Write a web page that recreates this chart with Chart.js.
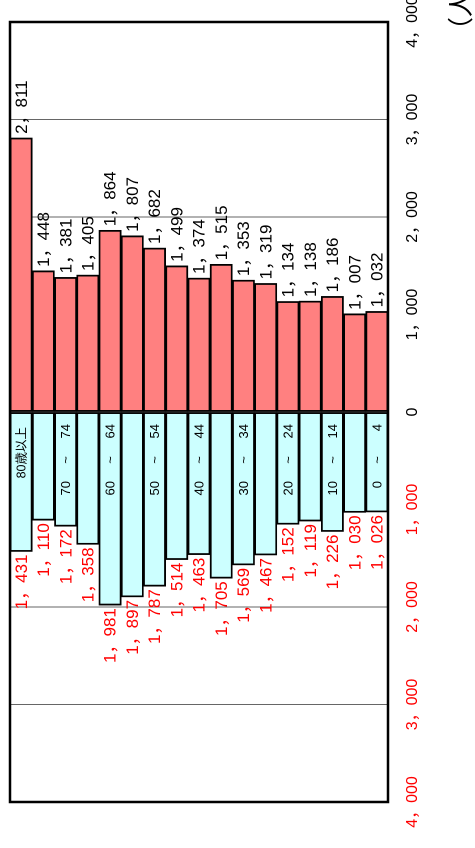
<!DOCTYPE html>
<html lang="ja">
<head>
<meta charset="utf-8">
<title>人口ピラミッド</title>
<script src="https://cdn.jsdelivr.net/npm/chart.js@4.4.1/dist/chart.umd.min.js"></script>
<style>
  html, body { margin: 0; padding: 0; background: #fff; overflow: hidden; }
  body { width: 475px; height: 848px; position: relative; }
  /* chart is drawn upright, then turned on its side like the scan */
  #wrap {
    position: absolute; left: 0; top: 0;
    width: 848px; height: 475px;
    transform-origin: 0 0;
    transform: translate(0, 848px) rotate(-90deg);
  }
</style>
</head>
<body>
<div id="wrap"><canvas id="pyramid" width="848" height="475"></canvas></div>
<script>
const ageLabels = ["80歳以上", "75～79", "70～74", "65～69", "60～64", "55～59", "50～54", "45～49",
  "40～44", "35～39", "30～34", "25～29", "20～24", "15～19", "10～14", "5～9", "0～4"];
const femaleValues = [2811, 1448, 1381, 1405, 1864, 1807, 1682, 1499, 1374, 1515, 1353, 1319, 1134, 1138, 1186, 1007, 1032];
const maleValues = [1431, 1110, 1172, 1358, 1981, 1897, 1787, 1514, 1463, 1705, 1569, 1467, 1152, 1119, 1226, 1030, 1026];
const axisMax = 4000;
const axisStep = 1000;
const unitLabel = "（人）";

const NUM_FONT = '"Liberation Sans", "Noto Sans CJK JP", sans-serif';

function fmt(v) {
  return Math.abs(v).toLocaleString("en-US").replace(/,/g, "，");
}

const labelsPlugin = {
  id: "pyramidLabels",
  afterDatasetsDraw(chart) {
    const ctx = chart.ctx;
    const area = chart.chartArea;
    const zero = chart.scales.x.getPixelForValue(0);
    ctx.save();

    // value labels at bar ends
    ctx.font = "17px " + NUM_FONT;
    ctx.textBaseline = "middle";
    chart.getDatasetMeta(0).data.forEach((bar, i) => {
      ctx.fillStyle = "#000";
      ctx.textAlign = "left";
      ctx.fillText(fmt(femaleValues[i]), bar.x + 4, bar.y + 1);
    });
    chart.getDatasetMeta(1).data.forEach((bar, i) => {
      ctx.fillStyle = "#ff0000";
      ctx.textAlign = "right";
      ctx.fillText(fmt(maleValues[i]), bar.x - 3, bar.y + 1);
    });

    // age group names inside the cyan bars, every other one
    ctx.font = "13px " + NUM_FONT;
    ctx.fillStyle = "#000";
    chart.getDatasetMeta(1).data.forEach((bar, i) => {
      if (i % 2) return;
      const name = ageLabels[i];
      const parts = name.split("～");
      ctx.textAlign = "right";
      if (parts.length < 2) {
        ctx.font = "12.5px " + NUM_FONT;
        ctx.fillText(name, zero - 15, bar.y + 1);
        ctx.font = "13px " + NUM_FONT;
        return;
      }
      ctx.fillText(parts[0], zero - 69, bar.y + 1);
      ctx.textAlign = "center";
      ctx.fillText("~", zero - 48, bar.y + 1);
      ctx.textAlign = "right";
      ctx.fillText(parts[1], zero - 12, bar.y + 1);
    });

    // frame
    ctx.strokeStyle = "#000";
    ctx.lineWidth = 2.5;
    ctx.strokeRect(area.left, area.top, area.right - area.left, area.bottom - area.top);

    // unit, runs off the edge like the scan
    ctx.font = "26px " + NUM_FONT;
    ctx.fillStyle = "#000";
    ctx.textAlign = "left";
    ctx.fillText(unitLabel, area.right - 21, area.bottom + 75);
    ctx.restore();
  },
};

new Chart(document.getElementById("pyramid"), {
  type: "bar",
  data: {
    labels: ageLabels,
    datasets: [
      {
        label: "女",
        data: femaleValues,
        backgroundColor: "#ff8080",
        borderColor: "#000",
        borderWidth: 1.8,
        borderSkipped: false,
        barPercentage: 1,
        categoryPercentage: 1,
      },
      {
        label: "男",
        data: maleValues.map((v) => -v),
        backgroundColor: "#ccffff",
        borderColor: "#000",
        borderWidth: 1.8,
        borderSkipped: false,
        barPercentage: 1,
        categoryPercentage: 1,
      },
    ],
  },
  options: {
    indexAxis: "y",
    responsive: false,
    devicePixelRatio: 2,
    animation: false,
    layout: { padding: { left: 46, right: 22, top: 10, bottom: 0 } },
    plugins: {
      legend: { display: false },
      tooltip: { enabled: false },
    },
    scales: {
      y: {
        type: "category",
        stacked: true,
        display: false,
      },
      x: {
        type: "linear",
        stacked: true,
        min: -axisMax,
        max: axisMax,
        position: "bottom",
        afterFit(scale) {
          scale.height = 87;
          scale.paddingLeft = 0;
          scale.paddingRight = 0;
        },
        border: { display: false },
        grid: {
          color: "#666",
          lineWidth: 1,
          drawTicks: false,
        },
        ticks: {
          stepSize: axisStep,
          autoSkip: false,
          maxRotation: 0,
          padding: 15,
          font: { size: 16, family: NUM_FONT },
          color: (ctx) => (ctx.tick && ctx.tick.value < 0 ? "#ff0000" : "#000"),
          callback: (v) => fmt(v),
        },
      },
    },
  },
  plugins: [labelsPlugin],
});
</script>
</body>
</html>
